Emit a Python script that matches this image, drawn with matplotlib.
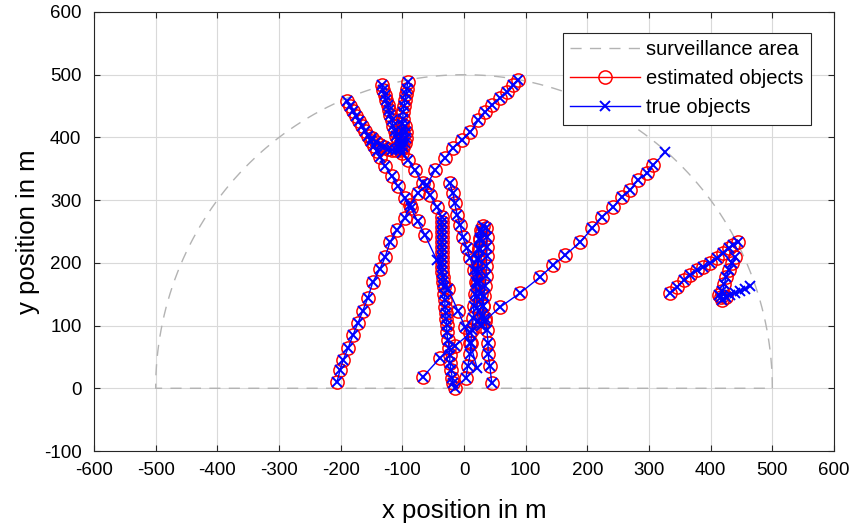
import numpy as np
import matplotlib
matplotlib.use("Agg")
import matplotlib.pyplot as plt
from matplotlib.lines import Line2D

plt.rcParams['font.family'] = ['Liberation Sans', 'DejaVu Sans']
plt.rcParams['axes.unicode_minus'] = False

# ---- data (metres) ----
area_radius = 500

t1_x = [-206, -201, -196, -188, -180, -172, -164, -156, -148, -136, -128, -120, -109, -96, -88,
        -75, -60, -47, -31, -18, -3, 10, 23, 34, 45, 58, 70, 80, 88]
t1_y = [10, 29, 45, 64, 85, 104, 124, 144, 169, 191, 209, 233, 252, 271, 292,
        311, 324, 348, 367, 383, 396, 408, 427, 440, 451, 463, 472, 483, 491]

t2_x = [-190, -185, -180, -175, -170, -166, -161, -156, -151, -146, -141, -136, -128, -117, -107,
        -96, -86, -75, -63, -44, -26, -10, 2, 10, 21]
t2_y = [458, 450, 442, 434, 426, 418, 410, 402, 394, 386, 378, 368, 354, 338, 322,
        303, 287, 266, 244, 204, 159, 124, 97, 72, 33]
t2_est_skip = [19, 24]

t3_x = [-133, -131, -128, -127, -123, -122, -120, -117, -115, -112, -110, -107, -104]
t3_y = [483, 475, 467, 459, 451, 443, 435, 427, 419, 411, 403, 396, 388]

t4_x = [-91, -93, -94, -96, -97, -99, -99, -101, -101, -102, -102, -104]
t4_y = [488, 478, 469, 459, 450, 440, 430, 421, 411, 402, 392, 383]

tj_x = [-149, -143, -136, -130, -123, -117, -110, -104, -99, -96, -94, -94, -96]
tj_y = [399, 392, 388, 384, 381, 380, 380, 381, 384, 391, 399, 408, 418]

tq_x = [-104, -101, -91, -80, -67, -55, -44, -36, -36, -36, -35, -35, -36, -36, -35, -35, -36,
        -36, -35, -34, -34, -33, -32, -31, -31, -30, -29, -28, -28, -26, -24, -23, -23, -21,
        -19, -18, -15]
tq_y = [380, 375, 364, 348, 327, 308, 289, 273, 265, 257, 249, 241, 233, 225, 217, 209, 201,
        193, 185, 177, 169, 161, 151, 140, 130, 120, 110, 101, 89, 77, 65, 53, 41, 29,
        16, 8, 1]

tf_x = [-23, -18, -15, -11, -6, -2, 5, 10, 16, 23, 28, 31, 34, 37, 39, 39, 42, 45]
tf_y = [327, 311, 295, 276, 260, 241, 223, 207, 188, 169, 150, 131, 112, 93, 73, 54, 35, 8]

tg_x = [3, 6, 10, 11, 13, 15, 16, 18, 19, 21, 23, 24, 26, 28, 31, 36, 37, 37, 37, 36, 36,
        34, 32, 31, 29, 28, 23, 21, 21, 21, 23, 23, 24, 26, 29]
tg_y = [16, 35, 54, 73, 93, 112, 131, 150, 169, 188, 207, 223, 239, 252, 258, 255, 242, 226,
        211, 195, 179, 163, 147, 131, 115, 99, 108, 128, 147, 166, 185, 204, 220, 236, 249]

td_x = [-67, -39, -15, 10, 34, 58, 91, 123, 144, 164, 188, 208, 224, 242, 256, 269, 282, 297,
        307, 326]
td_y = [18, 48, 67, 88, 108, 129, 152, 177, 196, 212, 233, 255, 273, 289, 305, 316, 332, 343,
        356, 376]

tu_x = [334, 346, 356, 367, 378, 388, 399, 411, 420, 429, 437, 445]
tu_y = [152, 161, 172, 180, 188, 193, 199, 207, 215, 223, 228, 233]

tr_x = [440, 435, 429, 425, 422, 419, 416, 414, 419, 425, 432, 440, 448, 456, 464]
tr_y = [209, 199, 188, 177, 166, 155, 145, 149, 140, 145, 148, 152, 155, 159, 163]

xticks = list(range(-600, 601, 100))
yticks = list(range(-100, 601, 100))

tracks = [
    (t1_x, t1_y, None),
    (t2_x, t2_y, t2_est_skip),
    (t3_x, t3_y, None),
    (t4_x, t4_y, None),
    (tj_x, tj_y, None),
    (tq_x, tq_y, None),
    (tf_x, tf_y, None),
    (tg_x, tg_y, None),
    (td_x, td_y, [len(td_x) - 1]),
    (tu_x, tu_y, None),
    (tr_x, tr_y, list(range(10, len(tr_x)))),
]

# ---- figure ----
fig = plt.figure(figsize=(8.52, 5.24), dpi=100)
ax = fig.add_axes([94 / 852, 1 - 451 / 524, 740 / 852, 439 / 524])

# surveillance area
theta = np.linspace(0, np.pi, 400)
ax.plot(np.r_[area_radius * np.cos(theta), -area_radius, area_radius],
        np.r_[area_radius * np.sin(theta), 0, 0],
        color=(0.7, 0.7, 0.7), lw=1.0, dashes=(8, 6), zorder=2)

red = (1, 0, 0)
blue = (0, 0, 1)
for tx, ty, skip in tracks:
    ex = [v for i, v in enumerate(tx) if not skip or i not in skip]
    ey = [v for i, v in enumerate(ty) if not skip or i not in skip]
    ax.plot(ex, ey, linestyle='none', marker='o', ms=9.5, mfc='none', mec=red, mew=1.1, zorder=3)
for tx, ty, skip in tracks:
    ax.plot(tx, ty, color=blue, lw=1.0, marker='x', ms=7, mew=1.4, zorder=4)

ax.set_xlim(-600, 600)
ax.set_ylim(-100, 600)
ax.set_xticks(xticks)
ax.set_yticks(yticks)
ax.grid(True, color=(0.85, 0.85, 0.85), lw=0.8)
ax.set_axisbelow(True)
for s in ax.spines.values():
    s.set_color((0.15, 0.15, 0.15))
    s.set_linewidth(0.8)
ax.tick_params(direction='in', length=4, width=0.8, colors=(0.15, 0.15, 0.15),
               labelsize=13.5, top=True, right=True)
ax.tick_params(axis='y', pad=9)
ax.tick_params(axis='x', pad=8)
for lab in ax.get_xticklabels() + ax.get_yticklabels():
    lab.set_color('black')

ax.set_xlabel('x position in m', fontsize=18.5, labelpad=14)
ax.set_ylabel('y position in m', fontsize=18.5, labelpad=3)

handles = [
    Line2D([], [], color=(0.7, 0.7, 0.7), lw=1.0, dashes=(8, 6)),
    Line2D([], [], color=red, lw=1.0, marker='o', ms=9.5, mfc='none', mec=red, mew=1.1),
    Line2D([], [], color=blue, lw=1.0, marker='x', ms=7, mew=1.4),
]
leg = ax.legend(handles, ['surveillance area', 'estimated objects', 'true objects'],
                loc='upper right', bbox_to_anchor=(0.969, 0.952), borderaxespad=0,
                fontsize=14.5, handlelength=3.5, handletextpad=0.3, borderpad=0.36,
                labelspacing=0.5, fancybox=False, framealpha=1,
                edgecolor=(0.15, 0.15, 0.15))
leg.get_frame().set_linewidth(0.8)

fig.savefig('out.png', dpi=100)
